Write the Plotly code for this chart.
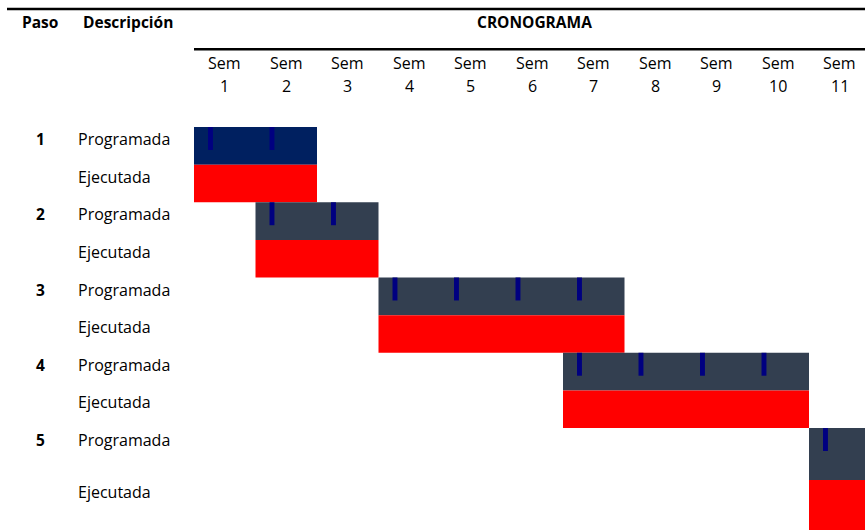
import plotly.graph_objects as go

# --- datos del cronograma ---
pasos = [1, 2, 3, 4, 5]
prog_inicio = [1, 2, 4, 7, 11]   # semana inicial programada
prog_fin = [2, 3, 7, 10, 11]     # semana final programada
ejec_inicio = [1, 2, 4, 7, 11]   # semana inicial ejecutada
ejec_fin = [2, 3, 7, 10, 11]     # semana final ejecutada
semanas = list(range(1, 12))
etiquetas_fila = ["Programada", "Ejecutada"]

# alto de cada fila (programada / ejecutada por paso), en unidades de fila
alto_fila = [1, 1, 1, 1, 1, 1, 1, 1, 1.38, 1.33]

W, H = 865, 530
FONT = "Open Sans"
COL_PROG_1 = "#002060"
COL_PROG = "#333F50"
COL_EJEC = "#FF0000"
COL_MARCA = "#000080"

# posiciones superiores de cada fila
tops = []
acc = 0.0
for h in alto_fila:
    tops.append(acc)
    acc += h
total = acc

fig = go.Figure()

# barras programadas y ejecutadas
for i, p in enumerate(pasos):
    r_prog, r_ejec = 2 * i, 2 * i + 1
    fig.add_trace(go.Bar(
        orientation="h",
        y=[tops[r_prog] + alto_fila[r_prog] / 2],
        x=[prog_fin[i] - prog_inicio[i] + 1],
        base=[prog_inicio[i] - 1],
        width=[alto_fila[r_prog]],
        marker=dict(color=COL_PROG_1 if i == 0 else COL_PROG, line=dict(width=0)),
        showlegend=False, hoverinfo="skip",
    ))
    fig.add_trace(go.Bar(
        orientation="h",
        y=[tops[r_ejec] + alto_fila[r_ejec] / 2],
        x=[ejec_fin[i] - ejec_inicio[i] + 1],
        base=[ejec_inicio[i] - 1],
        width=[alto_fila[r_ejec]],
        marker=dict(color=COL_EJEC, line=dict(width=0)),
        showlegend=False, hoverinfo="skip",
    ))
    # marca semanal en la fila programada
    sem = list(range(prog_inicio[i], prog_fin[i] + 1))
    alto_marca = 0.61
    fig.add_trace(go.Bar(
        orientation="h",
        y=[tops[r_prog] + alto_marca / 2] * len(sem),
        x=[0.08] * len(sem),
        base=[s - 1 + 0.228 for s in sem],
        width=[alto_marca] * len(sem),
        marker=dict(color=COL_MARCA, line=dict(width=0)),
        showlegend=False, hoverinfo="skip",
    ))

ann = []
bold = dict(family=FONT, size=15.5, color="#000000")
reg = dict(family=FONT, size=16, color="#000000")

# encabezados
ann.append(dict(text="<b>Paso</b>", x=40 / W, y=1 - 22 / H, xref="paper", yref="paper",
                xanchor="center", yanchor="middle", showarrow=False, font=bold))
ann.append(dict(text="<b>Descripción</b>", x=81 / W, y=1 - 22 / H, xref="paper", yref="paper",
                xanchor="left", yanchor="middle", showarrow=False, font=bold))
ann.append(dict(text="<b>CRONOGRAMA</b>", x=534 / W, y=1 - 22 / H, xref="paper", yref="paper",
                xanchor="center", yanchor="middle", showarrow=False, font=bold))

# semanas
for s in semanas:
    ann.append(dict(text="Sem", x=s - 0.5, y=1 - 63 / H, xref="x", yref="paper",
                    xanchor="center", yanchor="middle", showarrow=False, font=reg))
    ann.append(dict(text=str(s), x=s - 0.5, y=1 - 86 / H, xref="x", yref="paper",
                    xanchor="center", yanchor="middle", showarrow=False, font=reg))

# etiquetas de filas
for i, p in enumerate(pasos):
    for j, lab in enumerate(etiquetas_fila):
        r = 2 * i + j
        yy = tops[r] + 0.32
        ann.append(dict(text=lab, x=75.5 / W, y=yy, xref="paper", yref="y",
                        xanchor="left", yanchor="middle", showarrow=False, font=reg))
    ann.append(dict(text=f"<b>{p}</b>", x=40 / W, y=tops[2 * i] + 0.32, xref="paper", yref="y",
                    xanchor="center", yanchor="middle", showarrow=False, font=bold))

shapes = [
    dict(type="line", xref="paper", yref="paper", x0=7 / W, x1=1, y0=1 - 9 / H, y1=1 - 9 / H,
         line=dict(color="#000000", width=2.5)),
    dict(type="line", xref="paper", yref="paper", x0=194 / W, x1=1, y0=1 - 49.3 / H, y1=1 - 49.3 / H,
         line=dict(color="#000000", width=2.5)),
]

fig.update_layout(
    width=W, height=H,
    margin=dict(l=0, r=0, t=0, b=0),
    paper_bgcolor="white", plot_bgcolor="white",
    barmode="overlay",
    xaxis=dict(domain=[194 / W, 1], range=[0, (W - 194) / 61.5], visible=False, fixedrange=True),
    yaxis=dict(domain=[0, (H - 127) / H], range=[total, 0], visible=False, fixedrange=True),
    annotations=ann, shapes=shapes,
)

fig.write_html("out.html")
